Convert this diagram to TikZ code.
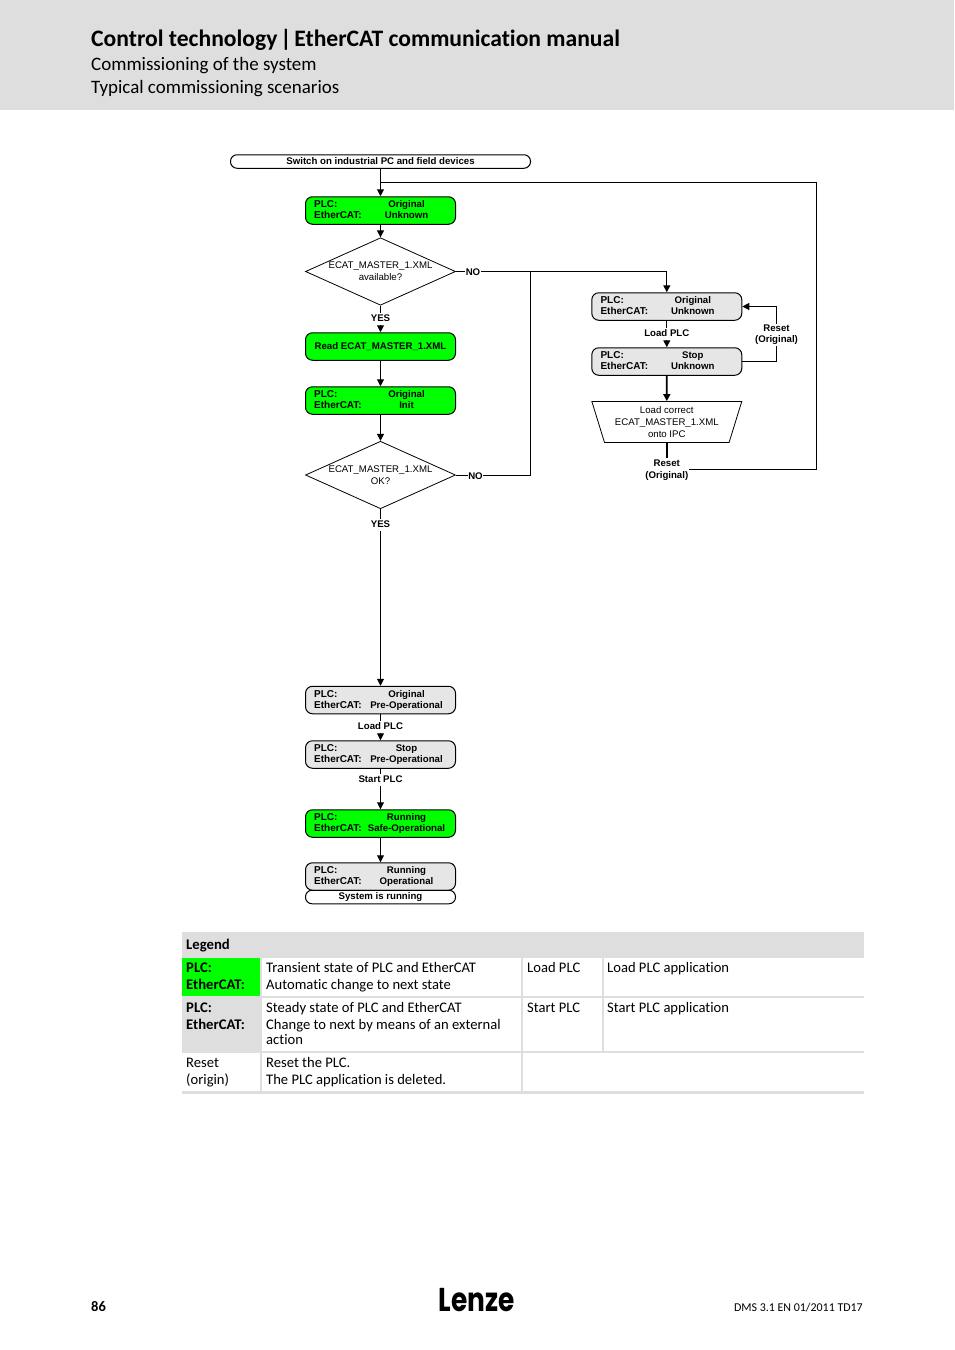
\documentclass[tikz,border=0pt]{standalone}
\usepackage{fontspec}
\setmainfont[Ligatures=NoCommon]{Carlito}
\newfontfamily\chartfont{Liberation Sans}
\newfontfamily\logofont{Poppins}
\usetikzlibrary{arrows.meta,shapes.geometric,calc}
\definecolor{pagegray}{HTML}{DEDEDE}
\definecolor{stategray}{HTML}{E6E6E6}
\definecolor{stategreen}{HTML}{00FF00}
\tikzset{
    chart/.style={font=\chartfont\fontsize{9.65}{11.8}\selectfont,inner sep=0pt,align=center},
    chartbold/.style={font=\chartfont\bfseries\fontsize{9.65}{11}\selectfont,inner sep=0pt,align=center},
    chartkey/.style={chartbold,font=\chartfont\bfseries\fontsize{10}{11}\selectfont,anchor=base west},
    state/.style={draw,line width=1pt,rounded corners=7pt,minimum width=150pt,minimum height=27.5pt,inner sep=0pt,fill=stategray},
    greenstate/.style={state,fill=stategreen},
    pill/.style={chartbold,draw,line width=1pt,rounded corners=6.5pt,minimum height=13.5pt,fill=white},
    decision/.style={draw,line width=.8pt,diamond,aspect=2.24,minimum width=150pt,minimum height=67.5pt,inner sep=0pt},
    arrowline/.style={line width=1pt,-{Triangle[length=7pt,width=7pt]}},
    plainline/.style={line width=1pt},
    thickline/.style={line width=1.7pt},
    edgestack/.style={chartbold,fill=white,inner xsep=.6pt,inner ysep=1pt},
    edgelabel/.style={edgestack,text height=7.5pt,text depth=2pt,inner ysep=1.5pt,yshift=-.8pt},
    cell/.style={font=\fontsize{14.6}{16}\selectfont,anchor=base west,inner sep=0pt},
    cellbold/.style={cell,font=\bfseries\fontsize{14.7}{16}\selectfont},
}
% state box with two text rows
\newcommand{\statebox}[6]{%
    \node[#4] (#1) at (#2,#3) {};
    \node[chartkey] (#1plc) at ($(#1.west)+(9,-3)$) {PLC:};
    \node[chartkey] (#1cat) at ($(#1.west)+(9,8)$) {EtherCAT:};
    \node[chartbold,anchor=base] (#1top) at ($(#1)+(26,-3)$) {#5};
    \node[chartbold,anchor=base] (#1low) at ($(#1)+(26,8)$) {#6};
}
\begin{document}
\begin{tikzpicture}[x=1pt,y=-1pt]
    \useasboundingbox (0,0) rectangle (954,1350);
    % header
    \fill[pagegray] (0,0) rectangle (954,110);
    \node[anchor=base west,inner sep=0pt,font=\bfseries\fontsize{23.6}{28}\selectfont] (title) at (91,46.5) {Control technology\kern-2.5pt{} | \kern-2.5pt EtherCAT communication manual};
    \node[anchor=base west,inner sep=0pt,font=\fontsize{19}{22}\selectfont] (subone) at (91,70) {Commissioning of the system};
    \node[anchor=base west,inner sep=0pt,font=\fontsize{18.95}{22}\selectfont] (subtwo) at (91,93) {Typical commissioning scenarios};

    % left column
    \node[pill,minimum width=300pt] (start) at (380.5,161.5) {Switch on industrial PC and field devices};
    \statebox{origunknown}{380.5}{210.5}{greenstate}{Original}{Unknown}
    \node[decision] (available) at (380.5,271.5) {};
    \node[chart] (availabletext) at (380.5,271) {ECAT\_MASTER\_1.XML\\available?};
    \node[state,fill=stategreen,font=\chartfont\bfseries\fontsize{9.65}{11}\selectfont] (readxml) at (380.5,346.5) {Read ECAT\_MASTER\_1.XML};
    \statebox{originit}{380.5}{400.5}{greenstate}{Original}{Init}
    \node[decision] (xmlok) at (380.5,475) {};
    \node[chart] (xmloktext) at (380.5,475.3) {ECAT\_MASTER\_1.XML\\OK?};
    \statebox{origpreop}{380.5}{700}{state}{Original}{Pre-Operational}
    \statebox{stoppreop}{380.5}{754.5}{state}{Stop}{Pre-Operational}
    \statebox{runsafeop}{380.5}{823.5}{greenstate}{Running}{Safe-Operational}
    \statebox{runop}{380.5}{876.5}{state}{Running}{Operational}
    \node[pill,minimum width=150pt] (running) at (380.5,897) {System is running};

    % right column
    \statebox{wrongorig}{666.8}{306.5}{state}{Original}{Unknown}
    \statebox{wrongstop}{666.8}{361.5}{state}{Stop}{Unknown}
    \node[chart,draw,line width=.8pt,trapezium,shape border rotate=180,trapezium left angle=71,trapezium right angle=71,trapezium stretches=true,minimum width=150pt,minimum height=41pt] (loadxml) at (666.8,422) {Load correct\\ECAT\_MASTER\_1.XML\\onto IPC};

    % connectors
    \coordinate (backin) at (380.5,182.5);
    \coordinate (backtop) at (816.5,182.5);
    \coordinate (backlow) at (816.5,469);
    \coordinate (noturn) at (530.5,271.5);
    \coordinate (nodrop) at (666.8,271.5);
    \coordinate (oklow) at (530.5,475);
    \coordinate (resetlow) at (776.5,361.5);
    \coordinate (resettop) at (776.5,306.5);
    \coordinate (resetfoot) at (666.8,458);
    \coordinate (resetend) at (688,469);
    \draw[arrowline] (start) -- (origunknown);
    \draw[arrowline] (origunknown) -- (available);
    \draw[arrowline] (available) -- (readxml);
    \draw[arrowline] (readxml) -- (originit);
    \draw[arrowline] (originit) -- (xmlok);
    \draw[arrowline] (xmlok) -- (origpreop);
    \draw[arrowline] (origpreop) -- (stoppreop);
    \draw[arrowline] (stoppreop) -- (runsafeop);
    \draw[arrowline] (runsafeop) -- (runop);
    \draw[arrowline] (available.east) -- (nodrop) -- (wrongorig.north);
    \draw[plainline] (xmlok.east) -- (oklow) -- (noturn);
    \draw[arrowline] (wrongorig) -- (wrongstop);
    \draw[plainline] (wrongstop.east) -- (resetlow) -- (resettop);
    \draw[arrowline] (resettop) -- (wrongorig.east);
    \draw[thickline,-{Triangle[length=7pt,width=7pt]}] (wrongstop) -- (loadxml);
    \draw[thickline] (loadxml) -- (resetfoot);
    \draw[plainline] (resetend) -- (backlow) -- (backtop) -- (backin);

    % labels on the lines
    \node[edgelabel] (noone) at (473,271.5) {NO};
    \node[edgelabel] (notwo) at (475.5,475.5) {NO};
    \node[edgelabel] (yesone) at (380.5,318) {YES};
    \node[edgelabel] (yestwo) at (380.5,524) {YES};
    \node[edgelabel] (loadone) at (380.5,726) {Load PLC};
    \node[edgelabel] (starttext) at (380.5,779) {Start PLC};
    \node[edgelabel] (loadtwo) at (666.8,333) {Load PLC};
    \node[edgestack] (resetright) at (776.5,334.7) {Reset\\(Original)};
    \node[edgestack,font=\chartfont\bfseries\fontsize{9.65}{12}\selectfont] (resetdown) at (666.8,469.7) {Reset\\(Original)};

    % legend
    \fill[pagegray] (182,932) rectangle (863.5,957.5);
    \fill[stategreen] (182,957.5) rectangle (260,996);
    \fill[pagegray] (182,996) rectangle (863.5,998);
    \fill[pagegray] (182,998) rectangle (260,1051);
    \fill[pagegray] (182,1051) rectangle (863.5,1053);
    \fill[pagegray] (182,1091) rectangle (863.5,1094);
    \fill[pagegray] (260,957.5) rectangle (262,1091);
    \fill[pagegray] (521,957.5) rectangle (523,1091);
    \fill[pagegray] (602,957.5) rectangle (603.5,1051);
    \node[cellbold] (legend) at (186,949) {Legend};
    \node[cellbold] (greenplc) at (186,972.7) {PLC:};
    \node[cellbold] (greencat) at (186,989.3) {EtherCAT:};
    \node[cellbold] (grayplc) at (186,1012.7) {PLC:};
    \node[cellbold] (graycat) at (186,1029.3) {EtherCAT:};
    \node[cell] (resetword) at (186,1067.7) {Reset};
    \node[cell] (originword) at (186,1084.3) {(origin)};
    \node[cell] (transone) at (266,972.7) {Transient state of PLC and EtherCAT};
    \node[cell] (transtwo) at (266,989.3) {Automatic change to next state};
    \node[cell] (steadyone) at (266,1012.7) {Steady state of PLC and EtherCAT};
    \node[cell] (steadytwo) at (266,1029.3) {Change to next by means of an external};
    \node[cell] (steadythree) at (266,1044.3) {action};
    \node[cell] (resetone) at (266,1067.7) {Reset the PLC.};
    \node[cell] (resettwo) at (266,1084.3) {The PLC application is deleted.};
    \node[cell] (loadkey) at (527,972.7) {Load PLC};
    \node[cell] (loadmean) at (607,972.7) {Load PLC application};
    \node[cell] (startkey) at (527,1012.7) {Start PLC};
    \node[cell] (startmean) at (607,1012.7) {Start PLC application};

    % footer
    \node[anchor=base west,inner sep=0pt,font=\bfseries\fontsize{14.5}{16}\selectfont] (pagenum) at (91,1311) {86};
    \node[anchor=base,inner sep=0pt,font=\logofont\bfseries\fontsize{33}{36}\selectfont] (logo) at (476.5,1311) {\scalebox{.8}[1]{Lenze}};
    \node[anchor=base east,inner sep=0pt,font=\fontsize{11.95}{14}\selectfont] (docref) at (863,1311) {DMS 3.1 EN 01/2011 TD17};
\end{tikzpicture}
\end{document}
